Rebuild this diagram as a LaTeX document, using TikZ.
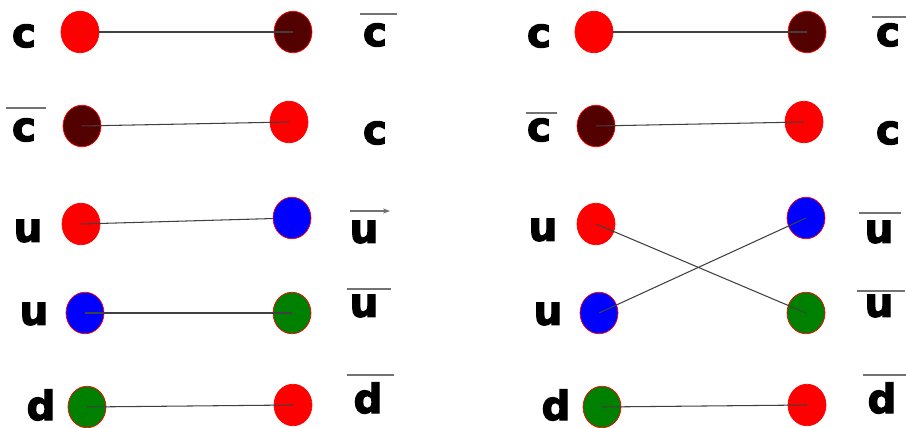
\documentclass[tikz,border=0pt]{standalone}
\usepackage{fontspec}
\setmainfont{DejaVu Sans}
\newfontfamily\labfont{DejaVu Sans Bold}[FakeBold=3]
\usetikzlibrary{shapes.geometric,arrows.meta}
\definecolor{qdark}{RGB}{82,0,0}
\definecolor{qgreen}{RGB}{0,128,0}
\tikzset{
  qk/.style  ={ellipse,draw=red,line width=0.4pt,minimum width=0.76cm,
               minimum height=0.83cm,inner sep=0pt},
  lab/.style ={font=\fontsize{23}{23}\labfont,inner sep=0pt},
  ln/.style  ={draw=black!75,line width=0.6pt},
  bar/.style ={draw=black!55,line width=0.9pt},
}

\begin{document}
\begin{tikzpicture}[x=0.02cm,y=-0.02cm]
\useasboundingbox (0,0) rectangle (906,428);
% left panel
\node[qk,fill=red]    (La1) at (80,32)  {};
\node[qk,fill=qdark]  (Lb1) at (293,32) {};
\node[qk,fill=qdark]  (La2) at (82,126) {};
\node[qk,fill=red]    (Lb2) at (289,122) {};
\node[qk,fill=red]    (La3) at (81,224) {};
\node[qk,fill=blue]   (Lb3) at (292,218) {};
\node[qk,fill=blue]   (La4) at (85,313) {};
\node[qk,fill=qgreen] (Lb4) at (292,313) {};
\node[qk,fill=qgreen] (La5) at (87,407) {};
\node[qk,fill=red]    (Lb5) at (293,405) {};
\node[lab] (Lq1) at (24,36)   {c};
\node[lab] (Lp1) at (375,35)  {c};
\node[lab] (Lq2) at (24,130)  {c};
\node[lab] (Lp2) at (375,133) {c};
\node[lab] (Lq3) at (28,231)  {u};
\node[lab] (Lp3) at (364,232) {u};
\node[lab] (Lq4) at (34,314)  {u};
\node[lab] (Lp4) at (364,306) {u};
\node[lab] (Lq5) at (41,405)  {d};
\node[lab] (Lp5) at (368,398) {d};
\draw[bar] (360,14) -- (397,14);
\draw[bar] (6,108) -- (46,108);
\draw[bar,-{Stealth[length=4pt,width=3pt]}] (350,211) -- (390,211);
\draw[bar] (347,289) -- (391,289);
\draw[bar] (347,375) -- (394,375);
\draw[ln] (La1) -- (Lb1.center);
\draw[ln] (La2.center) -- (Lb2.center);
\draw[ln] (La3.center) -- (Lb3);
\draw[ln] (La4.center) -- (Lb4.center);
\draw[ln] (La5.center) -- (Lb5.center);
% right panel
\node[qk,fill=red]    (Ra1) at (594,32)  {};
\node[qk,fill=qdark]  (Rb1) at (807,32)  {};
\node[qk,fill=qdark]  (Ra2) at (596,126) {};
\node[qk,fill=red]    (Rb2) at (804,122) {};
\node[qk,fill=red]    (Ra3) at (596,224) {};
\node[qk,fill=blue]   (Rb3) at (806,218) {};
\node[qk,fill=blue]   (Ra4) at (599,313) {};
\node[qk,fill=qgreen] (Rb4) at (806,313) {};
\node[qk,fill=qgreen] (Ra5) at (602,407) {};
\node[qk,fill=red]    (Rb5) at (807,405) {};
\node[lab] (Rq1) at (539,36)  {c};
\node[lab] (Rp1) at (888,35)  {c};
\node[lab] (Rq2) at (539,130) {c};
\node[lab] (Rp2) at (888,133) {c};
\node[lab] (Rq3) at (543,230) {u};
\node[lab] (Rp3) at (879,232) {u};
\node[lab] (Rq4) at (548,314) {u};
\node[lab] (Rp4) at (879,306) {u};
\node[lab] (Rq5) at (556,405) {d};
\node[lab] (Rp5) at (882,398) {d};
\draw[bar] (872,17) -- (906,17);
\draw[bar] (526,113) -- (557,113);
\draw[bar] (859,213) -- (901,213);
\draw[bar] (857,291) -- (905,291);
\draw[bar] (863,375) -- (906,375);
\draw[ln] (Ra1) -- (Rb1.center);
\draw[ln] (Ra2.center) -- (Rb2.center);
\draw[ln] (Ra3.center) -- (Rb4.center);
\draw[ln] (Ra4.center) -- (Rb3.center);
\draw[ln] (Ra5.center) -- (Rb5.center);
\end{tikzpicture}
\end{document}
